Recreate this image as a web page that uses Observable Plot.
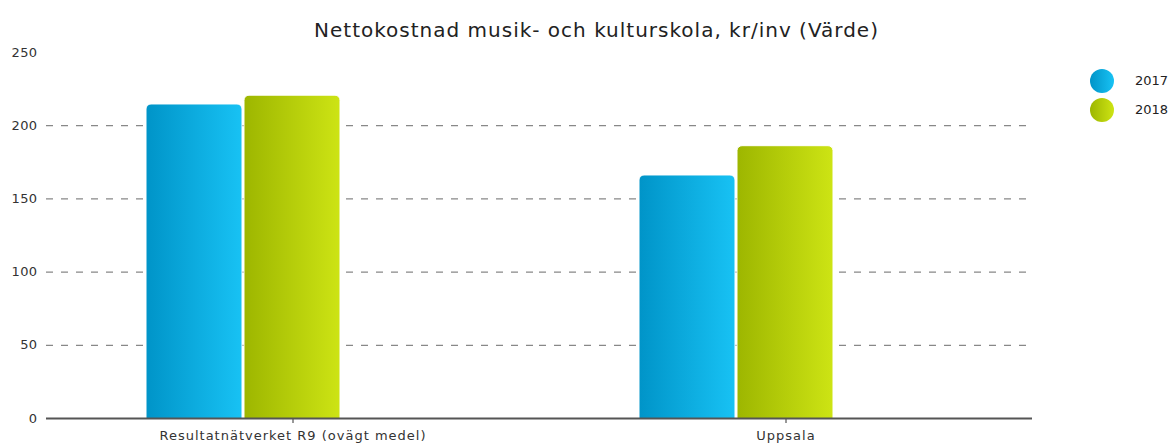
<!DOCTYPE html>
<html>
<head>
<meta charset="utf-8">
<script src="https://cdn.jsdelivr.net/npm/d3@7"></script>
<script src="https://cdn.jsdelivr.net/npm/@observablehq/plot@0.6"></script>
<style>
  html, body { margin: 0; padding: 0; background: #fff; }
  body { width: 1173px; height: 445px; position: relative; overflow: hidden; font-family: "DejaVu Sans", sans-serif; }
  #title { position: absolute; left: 0; top: 18px; width: 1193px; text-align: center; font-size: 20px; letter-spacing: 1px; color: #222; }
  #chart { position: absolute; left: 0; top: 40px; }
  #legend { position: absolute; left: 1090px; top: 66px; font-size: 13px; color: #222; }
  .li { display: flex; align-items: center; height: 29px; }
  .dot { width: 24px; height: 24px; border-radius: 50%; margin-right: 21px; }
  #chart svg g[aria-label="y-axis tick label"] text { letter-spacing: 0.4px; }
  #chart svg g[aria-label="fx-axis tick label"] text { letter-spacing: 1px; }
</style>
</head>
<body>
<div id="title"></div>
<div id="chart"></div>
<div id="legend"></div>
<script>
const titleText = "Nettokostnad musik- och kulturskola, kr/inv (Värde)";
const categories = ["Resultatnätverket R9 (ovägt medel)", "Uppsala"];
const years = ["2017", "2018"];
const values2017 = [214.5, 166];
const values2018 = [220.5, 186];
const yTicks = [0, 50, 100, 150, 200, 250];
const gridTicks = [50, 100, 150, 200];
const seriesColors = {
  "2017": ["#0094c8", "#18c2f4"],
  "2018": ["#9db600", "#cde414"]
};

const data = [];
categories.forEach((c, i) => {
  data.push({category: c, year: "2017", value: values2017[i]});
  data.push({category: c, year: "2018", value: values2018[i]});
});

document.getElementById("title").textContent = titleText;

const slots = ["_a", ...years, "_b", "_c"];

const barMarks = years.map(yr =>
  Plot.barY(data.filter(d => d.year === yr), {
    fx: "category", x: "year", y: "value",
    fill: `url(#grad${yr})`, stroke: "#fff", strokeWidth: 1, rx: 5,
    insetBottom: -8, clip: true
  })
);

const chart = Plot.plot({
  width: 1173,
  height: 405,
  marginLeft: 45,
  marginRight: 141,
  marginTop: 12,
  marginBottom: 27,
  style: {fontFamily: "DejaVu Sans, sans-serif", fontSize: "13px", color: "#333"},
  fx: {domain: categories, padding: 0, label: null, tickSize: 5, tickPadding: 7, axis: "bottom"},
  x: {domain: slots, padding: 0.02, axis: null},
  y: {domain: [0, 250], ticks: yTicks, tickSize: 0, tickPadding: 9, label: null},
  marks: [
    Plot.ruleY(gridTicks, {stroke: "#888", strokeOpacity: 1, strokeWidth: 1.2, strokeDasharray: "7,8", strokeDashoffset: -15}),
    ...barMarks,
    Plot.ruleY([0], {stroke: "#555", strokeWidth: 2})
  ]
});

// gradients
const svgNS = "http://www.w3.org/2000/svg";
const defs = document.createElementNS(svgNS, "defs");
for (const y of years) {
  const g = document.createElementNS(svgNS, "linearGradient");
  g.setAttribute("id", "grad" + y);
  g.setAttribute("x1", "0"); g.setAttribute("x2", "1");
  g.setAttribute("y1", "0"); g.setAttribute("y2", "0");
  seriesColors[y].forEach((col, k) => {
    const s = document.createElementNS(svgNS, "stop");
    s.setAttribute("offset", k === 0 ? "0%" : "100%");
    s.setAttribute("stop-color", col);
    g.appendChild(s);
  });
  defs.appendChild(g);
}
chart.insertBefore(defs, chart.firstChild);
document.getElementById("chart").appendChild(chart);

// legend
const legend = document.getElementById("legend");
for (const y of years) {
  const row = document.createElement("div");
  row.className = "li";
  const dot = document.createElement("div");
  dot.className = "dot";
  dot.style.background = `linear-gradient(to right, ${seriesColors[y][0]}, ${seriesColors[y][1]})`;
  const t = document.createElement("span");
  t.textContent = y;
  row.appendChild(dot); row.appendChild(t);
  legend.appendChild(row);
}
</script>
</body>
</html>
